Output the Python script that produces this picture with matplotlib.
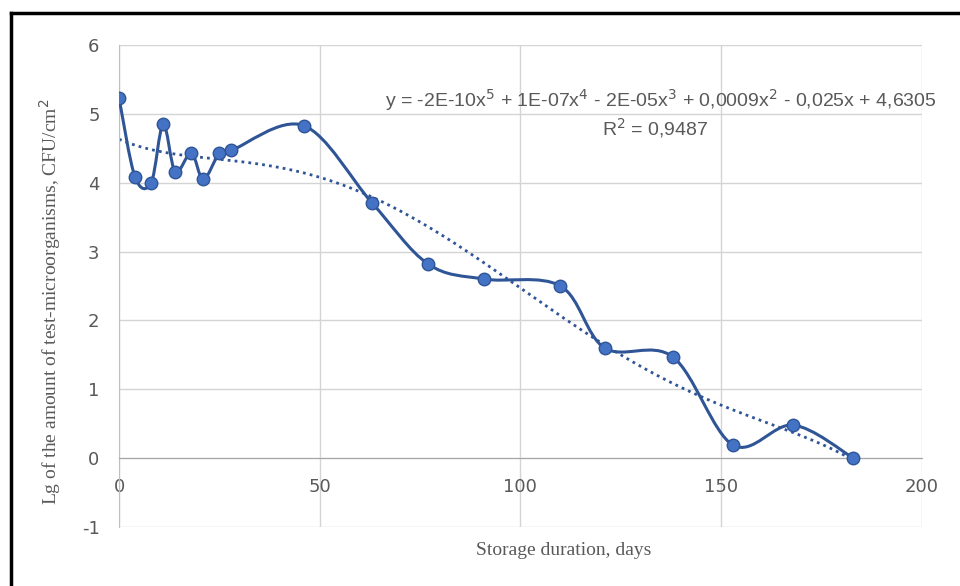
import matplotlib
matplotlib.use('Agg')
import matplotlib.pyplot as plt
import numpy as np
from matplotlib.path import Path
from matplotlib.patches import PathPatch
from matplotlib.lines import Line2D

plt.rcParams['axes.unicode_minus'] = False

# storage duration (days) and lg of test-microorganisms, CFU/cm2
days = [0, 4, 8, 11, 14, 18, 21, 25, 28, 46, 63, 77, 91, 110, 121, 138, 153, 168, 183]
lg_cfu = [5.23, 4.08, 4.00, 4.85, 4.16, 4.43, 4.05, 4.43, 4.47, 4.83, 3.71, 2.82,
          2.60, 2.50, 1.60, 1.47, 0.19, 0.48, 0.0]

x_ticks = [0, 50, 100, 150, 200]
y_ticks = [-1, 0, 1, 2, 3, 4, 5, 6]
equation = 'y = -2E-10x$^5$ + 1E-07x$^4$ - 2E-05x$^3$ + 0,0009x$^2$ - 0,025x + 4,6305'
r_squared = 'R$^2$ = 0,9487'

blue = '#4472c4'
line_blue = '#2f5597'
grey_text = '#595959'
grid_grey = '#d4d4d4'


def smooth_path(xs, ys, tension=1 / 6):
    # Excel-like smoothed line: Catmull-Rom converted to cubic Bezier segments
    pts = np.column_stack([xs, ys]).astype(float)
    verts = [pts[0]]
    codes = [Path.MOVETO]
    n = len(pts)
    for i in range(n - 1):
        p0 = pts[i - 1] if i > 0 else pts[i]
        p1 = pts[i]
        p2 = pts[i + 1]
        p3 = pts[i + 2] if i + 2 < n else pts[i + 1]
        c1 = p1 + (p2 - p0) * tension
        c2 = p2 - (p3 - p1) * tension
        verts += [c1, c2, p2]
        codes += [Path.CURVE4] * 3
    return Path(verts, codes)


fig = plt.figure(figsize=(9.6, 5.86), dpi=100)
ax = fig.add_axes([0.124, 0.1007, 0.836, 0.8225])

ax.set_xlim(0, 200)
ax.set_ylim(-1, 6)
ax.set_xticks(x_ticks)
ax.set_yticks(y_ticks)
ax.grid(True, color=grid_grey, linewidth=1)
ax.set_axisbelow(True)

for side in ['top', 'right']:
    ax.spines[side].set_visible(False)
ax.spines['bottom'].set_position(('data', 0))
ax.spines['bottom'].set_color('#a6a6a6')
ax.spines['left'].set_color('#bfbfbf')
ax.tick_params(length=0, labelsize=13, labelcolor=grey_text, pad=14)
ax.tick_params(axis='x', pad=14)

# polynomial trendline (order 5)
coef = np.polyfit(days, lg_cfu, 5)
tx = np.linspace(min(days), max(days), 300)
ax.plot(tx, np.polyval(coef, tx), linestyle=(0, (1, 1.5)), color=line_blue,
        linewidth=2.0, zorder=2)

ax.add_patch(PathPatch(smooth_path(days, lg_cfu), facecolor='none',
                       edgecolor=line_blue, linewidth=2.2, zorder=3))
ax.plot(days, lg_cfu, linestyle='none', marker='o', markersize=9,
        color=blue, markeredgecolor=line_blue, zorder=4)

fig.text(0.688, 0.829, equation, ha='center', va='center', fontsize=14,
         color=grey_text, family='Liberation Sans')
fig.text(0.682, 0.781, r_squared, ha='center', va='center', fontsize=14,
         color=grey_text, family='Liberation Sans')

fig.text(0.587, 0.061, 'Storage duration, days', ha='center', va='center',
         fontsize=14, color=grey_text, family='Liberation Serif')
fig.text(0.052, 0.485, 'Lg of the amount of test-microorganisms, CFU/cm$^2$',
         ha='center', va='center', rotation=90, fontsize=14, color=grey_text,
         family='Liberation Serif')

# black frame on top and left
fig.add_artist(Line2D([0.0115, 1.0], [0.978, 0.978], color='black',
                      linewidth=2.5, transform=fig.transFigure))
fig.add_artist(Line2D([0.0115, 0.0115], [0.0, 0.978], color='black',
                      linewidth=2.5, transform=fig.transFigure))

fig.savefig('out.png', dpi=100)
